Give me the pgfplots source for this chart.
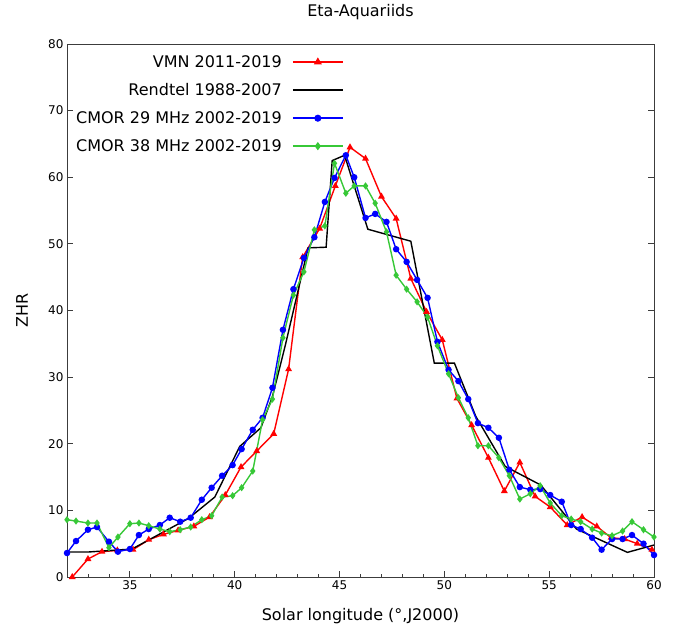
\documentclass[border=0pt]{standalone}
\usepackage{fontspec}
\setmainfont{DejaVu Sans}
\usepackage{pgfplots}
\pgfplotsset{compat=1.18}
\definecolor{cgreen}{RGB}{55,200,55}
\definecolor{axgray}{RGB}{60,60,60}

\pgfplotstableread{
x y
32.25 0.0
33.0 2.7
33.67 3.8
34.4 4.0
35.15 4.1
35.9 5.6
36.6 6.4
37.3 7.0
38.05 7.6
38.8 9.0
39.55 12.3
40.3 16.5
41.05 18.9
41.86 21.5
42.57 31.2
43.24 48.0
44.05 52.3
44.8 58.7
45.5 64.5
46.24 62.8
47.0 57.1
47.7 53.8
48.4 44.8
49.15 39.8
49.9 35.6
50.6 26.8
51.3 22.8
52.1 17.9
52.86 12.9
53.6 17.2
54.33 12.1
55.05 10.5
55.86 7.8
56.57 9.0
57.27 7.6
57.95 5.9
58.6 5.7
59.2 5.0
59.9 4.1
}\vmn

\pgfplotstableread{
x y
32.0 3.75
33.0 3.75
35.1 4.2
37.8 8.8
39.05 12.0
40.24 19.6
41.25 22.4
41.8 27.1
42.4 34.6
43.5 49.4
44.36 49.5
44.65 62.5
45.24 63.3
46.35 52.2
48.4 50.4
49.52 32.1
50.48 32.1
51.5 24.1
52.9 16.6
54.6 13.8
56.3 7.2
58.73 3.7
60.0 4.8
}\rendtel

\pgfplotstableread{
x y
32.0 3.6
32.43 5.4
33.0 7.1
33.43 7.5
34.0 5.3
34.43 3.8
35.0 4.2
35.43 6.3
35.9 7.2
36.43 7.8
36.9 8.9
37.4 8.3
37.9 8.9
38.43 11.6
38.9 13.4
39.4 15.2
39.9 16.8
40.33 19.2
40.86 22.1
41.33 23.9
41.8 28.4
42.3 37.1
42.8 43.2
43.3 47.9
43.8 51.0
44.3 56.3
44.76 59.9
45.3 63.3
45.7 60.0
46.24 53.9
46.7 54.5
47.24 53.3
47.7 49.2
48.2 47.3
48.7 44.6
49.2 41.9
49.67 35.3
50.2 31.1
50.67 29.4
51.14 26.7
51.6 23.1
52.1 22.4
52.6 20.9
53.1 16.1
53.6 13.5
54.1 13.1
54.57 13.2
55.05 12.3
55.6 11.3
56.05 7.8
56.5 7.2
57.05 5.9
57.5 4.1
58.0 5.7
58.5 5.7
58.95 6.3
59.5 5.0
60.0 3.3
}\cmora

\pgfplotstableread{
x y
32.0 8.6
32.43 8.4
33.0 8.1
33.43 8.1
34.0 4.4
34.43 6.0
35.0 8.0
35.43 8.1
35.9 7.7
36.43 7.2
36.9 6.8
37.4 7.1
37.9 7.5
38.43 8.6
38.9 9.2
39.4 12.0
39.9 12.2
40.33 13.4
40.86 15.9
41.33 23.6
41.8 26.7
42.3 35.9
42.8 42.3
43.3 45.8
43.8 52.1
44.3 52.7
44.76 62.1
45.3 57.6
45.7 58.7
46.24 58.7
46.7 56.1
47.24 51.8
47.7 45.3
48.2 43.2
48.7 41.3
49.2 39.0
49.67 34.7
50.2 30.5
50.67 26.9
51.14 23.9
51.6 19.7
52.1 19.7
52.6 17.9
53.1 15.2
53.6 11.7
54.1 12.5
54.57 13.7
55.05 11.1
55.6 9.2
56.05 8.7
56.5 8.3
57.05 7.2
57.5 6.6
58.0 6.2
58.5 6.9
58.95 8.3
59.5 7.1
60.0 6.0
}\cmorb

\begin{document}
\begin{tikzpicture}
\path[use as bounding box] (0,0) rectangle (684pt,625pt);
\begin{axis}[
  at={(67pt,48pt)}, anchor=south west,
  scale only axis, width=587pt, height=533pt,
  xmin=32, xmax=60, ymin=0, ymax=80,
  xtick={35,40,45,50,55,60},
  minor xtick={33,34,36,37,38,39,41,42,43,44,46,47,48,49,51,52,53,54,56,57,58,59},
  ytick={0,10,...,80},
  xtick pos=bottom, ytick pos=both, yticklabel pos=left,
  tick align=inside,
  major tick length=6pt, minor tick length=3.5pt,
  axis line style={axgray, line width=1pt},
  every tick/.style={axgray, line width=0.8pt},
  tick label style={font=\fontsize{12}{14}\selectfont},
  /pgf/number format/assume math mode=true,
  title={Eta-Aquariids},
  title style={font=\fontsize{16}{19}\selectfont, at={(0.5,1.0488)}, anchor=center, yshift=0pt},
  xlabel={Solar longitude (°,J2000)},
  ylabel={ZHR},
  every axis x label/.style={at={(0.5,-0.0735)}, anchor=center, font=\fontsize{16}{19}\selectfont},
  every axis y label/.style={at={(-0.0767,0.5)}, rotate=90, anchor=center, font=\fontsize{16}{19}\selectfont},
  legend style={at={(0.472,0.983)}, anchor=north east, draw=none, fill=none,
    font=\fontsize{16}{19}\selectfont, row sep=10.6pt, column sep=8pt, inner sep=0pt},
  legend cell align=right,
  legend plot pos=right,
  legend image code/.code={\draw[line width=2pt, mark repeat=2,mark phase=2] plot coordinates {(0pt,0pt) (25pt,0pt) (50pt,0pt)};},
]
\addplot[red, line width=1.4pt, mark=triangle*, mark size=2.6pt] table {\vmn};
\addlegendentry{VMN 2011-2019}
\addplot[black, line width=1.4pt, no marks] table {\rendtel};
\addlegendentry{Rendtel 1988-2007}
\addplot[blue, line width=1.4pt, mark=*, mark size=2.5pt] table {\cmora};
\addlegendentry{CMOR 29 MHz 2002-2019}
\addplot[cgreen, line width=1.4pt, mark=diamond*, mark size=2.5pt] table {\cmorb};
\addlegendentry{CMOR 38 MHz 2002-2019}
\end{axis}
\end{tikzpicture}
\end{document}
